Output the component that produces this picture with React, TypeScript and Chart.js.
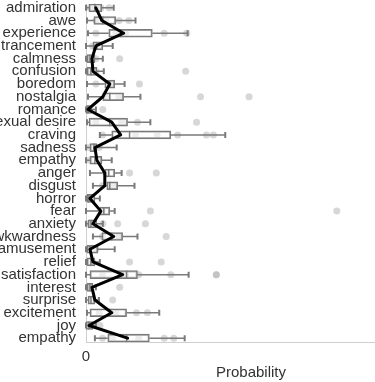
import React, { useEffect, useRef } from "react";
import { Chart, registerables } from "chart.js";
Chart.register(...registerables);

const categories = [
  "admiration", "awe", "experience", "entrancement", "calmness", "confusion",
  "boredom", "nostalgia", "romance", "sexual desire", "craving", "sadness",
  "empathy", "anger", "disgust", "horror", "fear", "anxiety", "awkwardness",
  "amusement", "relief", "satisfaction", "interest", "surprise", "excitement",
  "joy", "empathy",
];

const whiskerLow = [0, 0.003, 0.006, 0, 0, 0, 0.003, 0.006, 0, 0.003, 0.042, 0, 0, 0.012, 0.021, 0, 0, 0, 0.021, 0, 0, 0, 0, 0, 0.003, 0, 0.027];
const q1 = [0.009, 0.024, 0.069, 0.021, 0.003, 0.003, 0.057, 0.051, 0, 0.009, 0.078, 0.012, 0.012, 0.057, 0.063, 0.003, 0.042, 0.006, 0.048, 0.003, 0.003, 0.012, 0.003, 0.006, 0.012, 0, 0.066];
const median = [0.027, 0.051, 0.105, 0.033, 0.012, 0.015, 0.072, 0.072, 0.006, 0.072, 0.132, 0.024, 0.027, 0.069, 0.072, 0.009, 0.054, 0.015, 0.078, 0.012, 0.015, 0.123, 0.012, 0.015, 0.072, 0.009, 0.123];
const q3 = [0.048, 0.09, 0.201, 0.051, 0.027, 0.033, 0.087, 0.114, 0.018, 0.126, 0.257, 0.033, 0.048, 0.087, 0.096, 0.027, 0.072, 0.033, 0.111, 0.036, 0.027, 0.156, 0.021, 0.027, 0.123, 0.021, 0.192];
const whiskerHigh = [0.084, 0.15, 0.308, 0.081, 0.051, 0.054, 0.117, 0.165, 0.03, 0.195, 0.422, 0.093, 0.078, 0.108, 0.147, 0.042, 0.087, 0.051, 0.156, 0.087, 0.042, 0.311, 0.03, 0.039, 0.222, 0.03, 0.299];
const means = [0.03, 0.048, 0.114, 0.03, 0.018, 0.021, 0.072, 0.051, 0.006, 0.078, 0.105, 0.027, 0.033, 0.057, 0.057, 0.012, 0.045, 0.021, 0.084, 0.012, 0.021, 0.111, 0.018, 0.027, 0.078, 0.009, 0.126];
const points = [
  [0.012, 0.03, 0.045, 0.07],
  [0.03, 0.06, 0.1, 0.13],
  [0.03, 0.09, 0.12, 0.237, 0.305],
  [0.02, 0.04],
  [0.01, 0.03, 0.102],
  [0.01, 0.03, 0.302],
  [0.03, 0.075, 0.162],
  [0.06, 0.1, 0.347, 0.494],
  [0.01, 0.051],
  [0.03, 0.108, 0.156, 0.335],
  [0.05, 0.15, 0.216, 0.278, 0.365, 0.386],
  [0.01, 0.04],
  [0.01, 0.04],
  [0.06, 0.132, 0.213],
  [0.05, 0.08],
  [0.01],
  [0.05, 0.195, 0.76],
  [0.01, 0.051, 0.096, 0.18],
  [0.05, 0.1, 0.243],
  [0.01, 0.03],
  [0.02, 0.132, 0.228],
  [0.05, 0.12, 0.16, 0.257, 0.395, 0.395],
  [0.01, 0.102],
  [0.02, 0.081],
  [0.04, 0.09, 0.153, 0.186],
  [0.01, 0.042],
  [0.05, 0.081, 0.16, 0.237, 0.266],
];
const xTicks = [0];
const xTitle = "Probability";

const FONT = "'Liberation Sans', Arial, Helvetica, sans-serif";
const TEXT = "#333333";
const BOX = "#7a7a7a";

export default function App() {
  const ref = useRef<HTMLCanvasElement>(null);

  useEffect(() => {
    const boxExtras = {
      id: "boxExtras",
      afterDatasetDraw(chart: any, args: any) {
        if (args.index !== 0) return;
        const { ctx, scales } = chart;
        const x = scales.x;
        const y = scales.y;
        ctx.save();
        ctx.strokeStyle = BOX;
        categories.forEach((_, i) => {
          const py = y.getPixelForValue(i);
          const xl = x.getPixelForValue(whiskerLow[i]);
          const x1 = x.getPixelForValue(q1[i]);
          const xm = x.getPixelForValue(median[i]);
          const x3 = x.getPixelForValue(q3[i]);
          const xh = x.getPixelForValue(whiskerHigh[i]);
          ctx.lineWidth = 1.5;
          ctx.beginPath();
          ctx.moveTo(xl, py);
          ctx.lineTo(x1, py);
          ctx.moveTo(x3, py);
          ctx.lineTo(xh, py);
          ctx.stroke();
          ctx.lineWidth = 2;
          ctx.beginPath();
          ctx.moveTo(xl, py - 3);
          ctx.lineTo(xl, py + 3);
          ctx.moveTo(xh, py - 3);
          ctx.lineTo(xh, py + 3);
          ctx.stroke();
          ctx.lineWidth = 1.5;
          ctx.beginPath();
          ctx.moveTo(xm, py - 4);
          ctx.lineTo(xm, py + 4);
          ctx.stroke();
        });
        ctx.restore();
      },
    };

    const scatterData = points.flatMap((arr, i) => arr.map((v) => ({ x: v, y: i })));

    const chart = new Chart(ref.current as HTMLCanvasElement, {
      type: "bar",
      data: {
        datasets: [
          {
            type: "bar",
            data: q1.map((v, i) => ({ x: [v, q3[i]], y: i })) as any,
            backgroundColor: "rgba(255,255,255,0.55)",
            borderColor: BOX,
            borderWidth: 1.5,
            borderSkipped: false,
            barThickness: 8,
            order: 2,
          } as any,
          {
            type: "line",
            data: scatterData as any,
            showLine: false,
            pointRadius: 3.5,
            pointBackgroundColor: "rgba(175,175,175,0.5)",
            pointBorderWidth: 0,
            order: 3,
          } as any,
          {
            type: "line",
            data: means.map((v, i) => ({ x: v, y: i })) as any,
            borderColor: "#000000",
            borderWidth: 3,
            pointRadius: 0,
            tension: 0,
            borderJoinStyle: "round",
            borderCapStyle: "round",
            order: 1,
          } as any,
        ],
      },
      options: {
        indexAxis: "y",
        animation: false,
        responsive: false,
        maintainAspectRatio: false,
        layout: { padding: 0 },
        plugins: { legend: { display: false }, tooltip: { enabled: false } },
        scales: {
          x: {
            type: "linear",
            min: 0,
            max: 1,
            offset: false,
            grid: { display: false, drawTicks: false },
            border: { display: true, color: "#cfcfcf", width: 1 },
            ticks: { padding: 6, color: TEXT, font: { family: FONT, size: 15 } },
            afterBuildTicks: (s: any) => {
              s.ticks = xTicks.map((v) => ({ value: v }));
            },
            afterFit: (s: any) => {
              s.height = 40;
              s.paddingLeft = 0;
              s.paddingRight = 0;
            },
            title: {
              display: true,
              text: xTitle,
              color: TEXT,
              font: { family: FONT, size: 15 },
              padding: { top: 0, bottom: 0 },
            },
          },
          y: {
            type: "linear",
            reverse: true,
            offset: false,
            min: -0.3,
            max: categories.length - 0.7,
            grid: { display: false, drawTicks: false, offset: false },
            border: { display: true, color: "#cfcfcf", width: 1 },
            ticks: {
              autoSkip: false,
              padding: 10,
              color: TEXT,
              font: { family: FONT, size: 15 },
              callback: (v: any) => categories[v as number] ?? "",
            },
            afterBuildTicks: (s: any) => {
              s.ticks = categories.map((_, i) => ({ value: i }));
            },
            afterFit: (s: any) => {
              s.width = 86;
              s.paddingTop = 0;
              s.paddingBottom = 0;
            },
          },
        },
      } as any,
      plugins: [boxExtras],
    });
    return () => chart.destroy();
  }, []);

  return (
    <div
      style={{
        position: "fixed",
        left: 0,
        top: 0,
        width: 375,
        height: 382,
        overflow: "hidden",
        background: "#ffffff",
      }}
    >
      <canvas
        ref={ref}
        width={420}
        height={382}
        style={{ display: "block", width: 420, height: 382 }}
      />
    </div>
  );
}
